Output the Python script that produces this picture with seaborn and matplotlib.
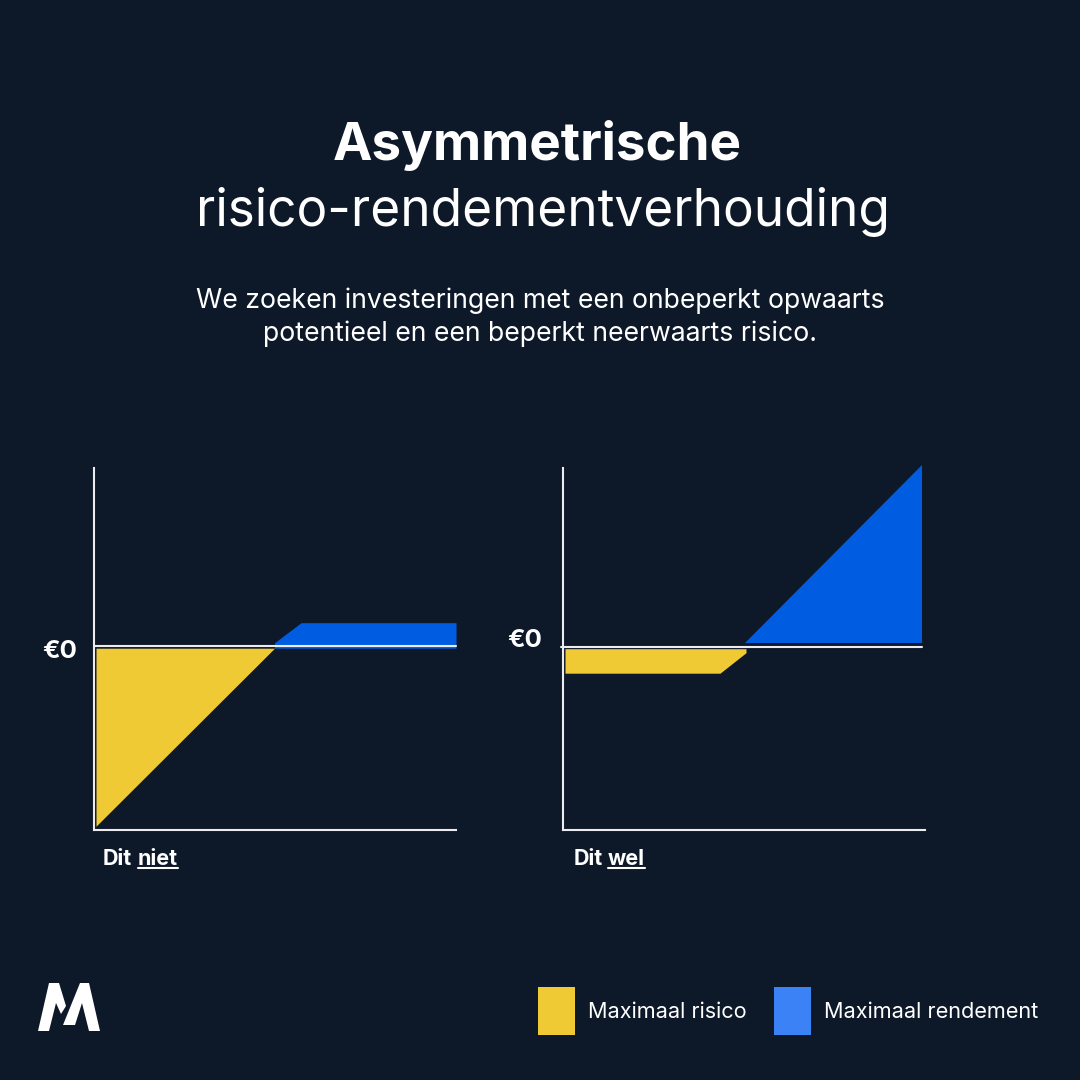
import matplotlib
matplotlib.use("Agg")
import matplotlib.pyplot as plt
from matplotlib.patches import Polygon, Rectangle
import seaborn as sns

BG = "#0D1829"
YELLOW = "#F0CA35"
BLUE = "#005CE0"
LEGEND_BLUE = "#3B82F6"
LINE = "#ECECF0"

# left chart, "dit niet" (values measured from the zero line and the y axis)
niet_risico_x = [2.5, 181, 2.5]
niet_risico_y = [-3, -3, -181]
niet_rendement_x = [181, 207.5, 362.5, 362.5, 181]
niet_rendement_y = [2.5, 22.5, 22.5, -3, -3]

# right chart, "dit wel"
wel_risico_x = [2.5, 183.5, 183.5, 157.5, 2.5]
wel_risico_y = [-2.5, -2.5, -6.5, -27, -27]
wel_rendement_x = [182, 359, 359]
wel_rendement_y = [4, 4, 181.5]

legend_labels = ["Maximaal risico", "Maximaal rendement"]

sns.set_theme(style="white", rc={"figure.facecolor": BG, "axes.facecolor": BG})
plt.rcParams["font.family"] = ["Inter", "DejaVu Sans"]

fig = plt.figure(figsize=(10.8, 10.8), dpi=100)


def make_axes(left, right, zero):
    ax = fig.add_axes([left / 1080, (1080 - 830) / 1080, (right - left) / 1080, 362 / 1080])
    ax.set_xlim(0, right - left)
    ax.set_ylim(zero - 830, zero - 468)
    ax.set_xticks([])
    ax.set_yticks([])
    sns.despine(ax=ax)
    for side in ["left", "bottom"]:
        ax.spines[side].set_color(LINE)
        ax.spines[side].set_linewidth(1.5)
    return ax


def draw_chart(ax, risk_x, risk_y, ret_x, ret_y, zero_x):
    ax.fill(risk_x, risk_y, color=YELLOW, lw=0, zorder=2, clip_on=False)
    ax.fill(ret_x, ret_y, color=BLUE, lw=0, zorder=2, clip_on=False)
    sns.lineplot(x=zero_x, y=[0, 0], ax=ax, color=LINE, lw=1.5, zorder=3, clip_on=False)


ax1 = make_axes(94, 456, 645.7)
draw_chart(ax1, niet_risico_x, niet_risico_y, niet_rendement_x, niet_rendement_y, [0, 362])

ax2 = make_axes(563, 925, 646.7)
draw_chart(ax2, wel_risico_x, wel_risico_y, wel_rendement_x, wel_rendement_y, [-2, 359.5])

# overlay in pixel coordinates for texts, legend and logo
ov = fig.add_axes([0, 0, 1, 1], facecolor="none")
ov.set_xlim(0, 1080)
ov.set_ylim(1080, 0)
ov.axis("off")

ov.text(537.5, 160, "Asymmetrische", color="white", fontsize=38.1, fontweight="bold", ha="center", va="baseline")
ov.text(543.5, 226, "risico-rendementverhouding", color="white", fontsize=37, fontweight="normal", ha="center", va="baseline")
ov.text(540, 308, "We zoeken investeringen met een onbeperkt opwaarts", color="white", fontsize=19.2, ha="center", va="baseline")
ov.text(540, 341, "potentieel en een beperkt neerwaarts risico.", color="white", fontsize=19.2, ha="center", va="baseline")

ov.text(42.5, 658, "€0", color="white", fontsize=18.5, fontweight="bold", va="baseline")
ov.text(507.5, 647, "€0", color="white", fontsize=18.5, fontweight="bold", va="baseline")

ov.text(103, 865, "Dit", color="white", fontsize=15.5, fontweight="bold", va="baseline")
ov.text(138, 865, "niet", color="white", fontsize=15.5, fontweight="bold", va="baseline")
ov.plot([138, 178], [868, 868], color="white", lw=1.5)
ov.text(574, 865, "Dit", color="white", fontsize=15.5, fontweight="bold", va="baseline")
ov.text(608, 865, "wel", color="white", fontsize=15.5, fontweight="bold", va="baseline")
ov.plot([608, 645], [868, 868], color="white", lw=1.5)

# legend
ov.add_patch(Rectangle((538, 987), 37, 48, color=YELLOW, lw=0))
ov.add_patch(Rectangle((773.5, 987), 37, 48, color=LEGEND_BLUE, lw=0))
ov.text(588, 1018, legend_labels[0], color="white", fontsize=15.6, va="baseline")
ov.text(823.5, 1018, legend_labels[1], color="white", fontsize=15.6, va="baseline")

# logo
ov.add_patch(Polygon([(38, 1031), (49, 983), (59, 983), (66, 1006), (61, 1014), (56, 1003), (49, 1031)], color="white", lw=0))
ov.add_patch(Polygon([(63, 1025), (80, 983), (89, 983), (100, 1031), (89, 1031), (82, 1003), (75, 1025)], color="white", lw=0))

fig.savefig("out.png", dpi=100, facecolor=BG)
